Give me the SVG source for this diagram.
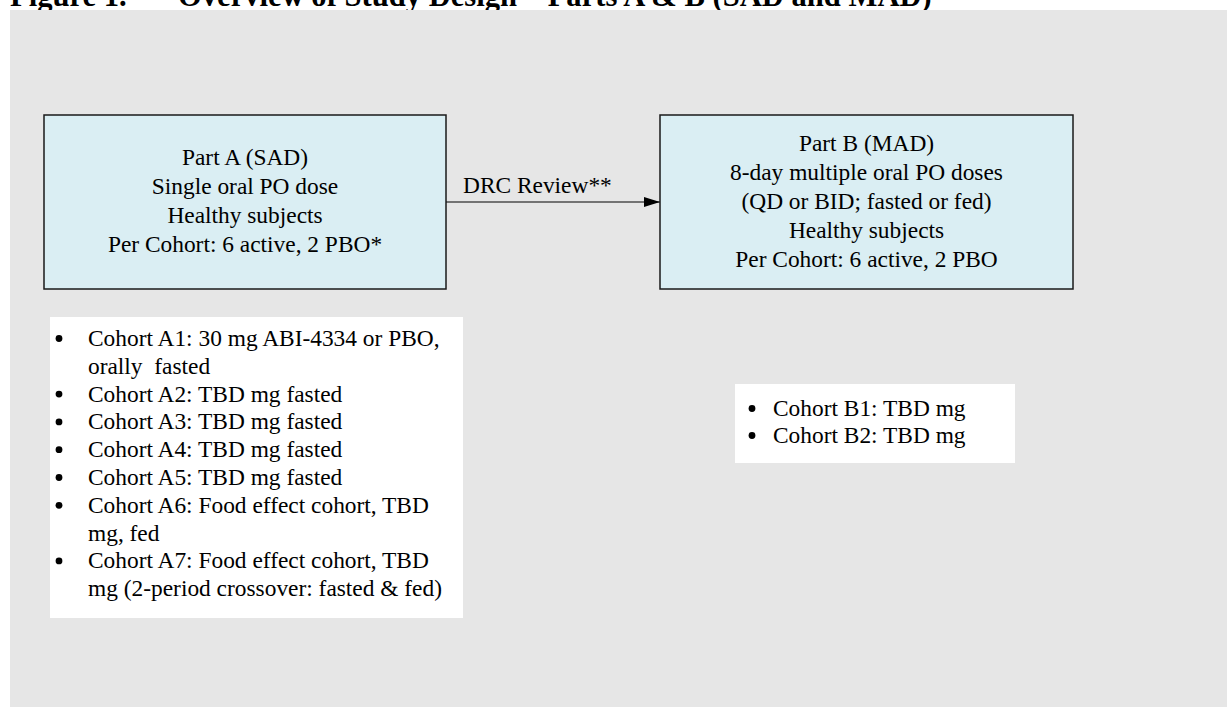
<svg xmlns="http://www.w3.org/2000/svg" width="1227" height="707" viewBox="0 0 1227 707">
<style>
.t{font-family:"Liberation Serif","Times New Roman",serif;font-size:23.4px;fill:#000}
.title{font-family:"Liberation Serif","Times New Roman",serif;font-size:30.6px;font-weight:bold;fill:#000}
.box{fill:#DAEEF3;stroke:#1a1a1a;stroke-width:1.5}
.list{fill:#ffffff}
.b{fill:#000}
</style>
<defs>
<marker id="arr" viewBox="0 0 16 10" refX="16" refY="5" markerWidth="16" markerHeight="10" markerUnits="userSpaceOnUse" orient="auto">
<path d="M0,0 L16,5 L0,10 z" fill="#000"/>
</marker>
</defs>
<rect width="1227" height="707" fill="#ffffff"/>
<g id="title">
<text class="title" x="10" y="6">Figure 1.</text>
<text class="title" x="178" y="6">Overview of Study Design – Parts A &amp; B (SAD and MAD)</text>
</g>
<rect id="background" x="10" y="10" width="1217" height="697" fill="#E6E6E6"/>
<g id="connectors">
<line x1="446" y1="202" x2="660" y2="202" stroke="#000" stroke-width="1.2" marker-end="url(#arr)"/>
<text class="t" x="463" y="193">DRC Review**</text>
</g>
<g id="partA">
<rect class="box" x="44" y="115" width="402" height="174"/>
<text class="t" text-anchor="middle" x="245" y="165">Part A (SAD)</text>
<text class="t" text-anchor="middle" x="245" y="194">Single oral PO dose</text>
<text class="t" text-anchor="middle" x="245" y="223">Healthy subjects</text>
<text class="t" text-anchor="middle" x="245" y="252">Per Cohort: 6 active, 2 PBO*</text>
</g>
<g id="partB">
<rect class="box" x="660" y="115" width="413" height="174"/>
<text class="t" text-anchor="middle" x="866.5" y="151">Part B (MAD)</text>
<text class="t" text-anchor="middle" x="866.5" y="180">8-day multiple oral PO doses</text>
<text class="t" text-anchor="middle" x="866.5" y="209">(QD or BID; fasted or fed)</text>
<text class="t" text-anchor="middle" x="866.5" y="238">Healthy subjects</text>
<text class="t" text-anchor="middle" x="866.5" y="267">Per Cohort: 6 active, 2 PBO</text>
</g>
<g id="cohortsA">
<rect class="list" x="50" y="317" width="413" height="301"/>
<circle class="b" cx="59" cy="338.5" r="3.4"/>
<text class="t" x="88" y="346">Cohort A1: 30 mg ABI-4334 or PBO,</text>
<text class="t" x="88" y="373.8" xml:space="preserve">orally  fasted</text>
<circle class="b" cx="59" cy="394.1" r="3.4"/>
<text class="t" x="88" y="401.6">Cohort A2: TBD mg fasted</text>
<circle class="b" cx="59" cy="421.9" r="3.4"/>
<text class="t" x="88" y="429.4">Cohort A3: TBD mg fasted</text>
<circle class="b" cx="59" cy="449.7" r="3.4"/>
<text class="t" x="88" y="457.2">Cohort A4: TBD mg fasted</text>
<circle class="b" cx="59" cy="477.5" r="3.4"/>
<text class="t" x="88" y="485">Cohort A5: TBD mg fasted</text>
<circle class="b" cx="59" cy="505.3" r="3.4"/>
<text class="t" x="88" y="512.8">Cohort A6: Food effect cohort, TBD</text>
<text class="t" x="88" y="540.6">mg, fed</text>
<circle class="b" cx="59" cy="560.9" r="3.4"/>
<text class="t" x="88" y="568.4">Cohort A7: Food effect cohort, TBD</text>
<text class="t" x="88" y="596.2">mg (2-period crossover: fasted &amp; fed)</text>
</g>
<g id="cohortsB">
<rect class="list" x="735" y="384" width="280" height="79"/>
<circle class="b" cx="752" cy="408.5" r="3.4"/>
<text class="t" x="773" y="416">Cohort B1: TBD mg</text>
<circle class="b" cx="752" cy="435.5" r="3.4"/>
<text class="t" x="773" y="443">Cohort B2: TBD mg</text>
</g>
</svg>
